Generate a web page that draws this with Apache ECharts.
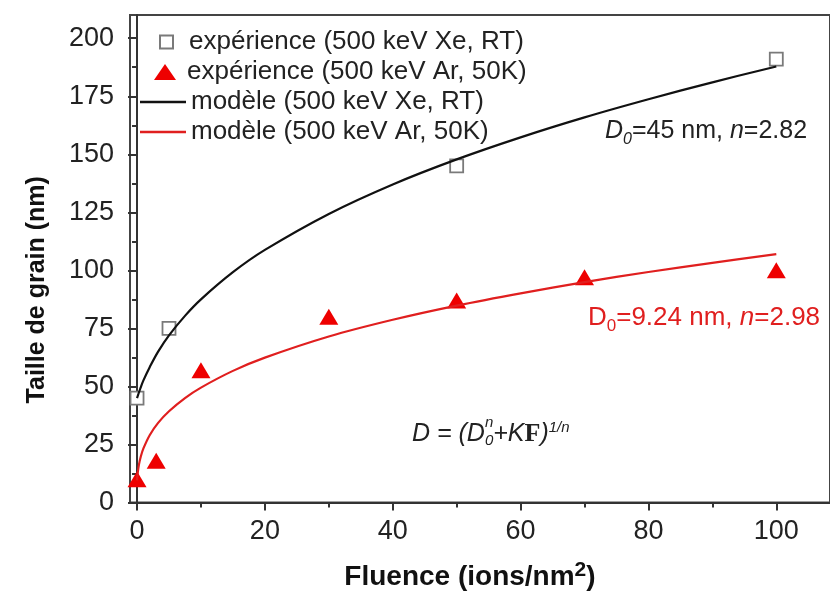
<!DOCTYPE html>
<html>
<head>
<meta charset="utf-8">
<script src="https://cdn.jsdelivr.net/npm/echarts@6/dist/echarts.min.js"></script>
<style>
html, body { margin: 0; padding: 0; background: #fff; }
#main { width: 830px; height: 596px; }
</style>
</head>
<body>
<div id="main"></div>
<script>
var xeFluence = [0, 5, 50, 100];
var xeSize = [45, 75, 145, 191];
var arFluence = [0, 3, 10, 30, 50, 70, 100];
var arSize = [10, 18, 57, 80, 87, 97, 100];

// model curves
var xeModelF = [0, 0.5, 1, 2, 3.3, 5, 7.5, 10, 15, 20, 30, 40, 50, 60, 70, 80, 90, 100];
var xeModelD = [45, 49, 52.6, 58.4, 65, 72, 80.4, 87.5, 99.2, 108.8, 124.3, 137, 147.8, 157.3, 165.9, 173.7, 181, 187.8];
var arModelF = [0, 0.1, 0.3, 0.6, 1, 2, 3.3, 5, 7.5, 10, 15, 20, 30, 40, 50, 60, 70, 80, 90, 100];
var arModelD = [9.5, 12.5, 16.3, 19.9, 23.3, 29.1, 34.3, 39.3, 45, 49.5, 56.7, 62.4, 71.5, 78.7, 84.8, 90.1, 94.9, 99.3, 103.2, 107];

var xTicks = [0, 20, 40, 60, 80, 100];
var xMinorTicks = [10, 30, 50, 70, 90];
var yTicks = [0, 25, 50, 75, 100, 125, 150, 175, 200];

var nameXeExp = 'expérience (500 keV Xe, RT)';
var nameArExp = 'expérience (500 keV Ar, 50K)';
var nameXeMod = 'modèle (500 keV Xe, RT)';
var nameArMod = 'modèle (500 keV Ar, 50K)';

function pairs(xs, ys) {
    return xs.map(function (x, i) { return [x, ys[i]]; });
}

var FONT = '"Liberation Sans", Arial, sans-serif';
var RED = '#e01f1f';
var chart = echarts.init(document.getElementById('main'));

function legendText(padLeft) {
    return { fontFamily: FONT, fontSize: 26, color: '#222', lineHeight: 26, padding: [0, 0, 0, padLeft] };
}

var option = {
    animation: false,
    backgroundColor: '#fff',
    textStyle: { fontFamily: FONT },
    grid: {
        left: 130, top: 15, right: -2, bottom: 92,
        show: true, borderColor: '#444', borderWidth: 2, backgroundColor: 'transparent'
    },
    legend: [{
        left: 154, top: 24, itemWidth: 13, itemHeight: 13,
        textStyle: legendText(11),
        data: [nameXeExp]
    }, {
        left: 149, top: 54, itemWidth: 22, itemHeight: 16,
        textStyle: legendText(6),
        data: [nameArExp]
    }, {
        orient: 'vertical', left: 135, top: 84,
        itemWidth: 46, itemHeight: 2.5, itemGap: 4, icon: 'rect',
        textStyle: legendText(0),
        data: [nameXeMod, nameArMod]
    }],
    xAxis: [{
        type: 'value', min: -1.1, max: 108.4, position: 'bottom',
        name: 'Fluence (ions/nm{sup|2})',
        nameLocation: 'middle', nameGap: 57,
        nameTextStyle: {
            fontFamily: FONT, fontSize: 28, fontWeight: 'bold', color: '#111',
            padding: [0, 20, 0, 0],
            rich: { sup: { fontFamily: FONT, fontSize: 21, fontWeight: 'bold', color: '#111', verticalAlign: 'top', padding: [0, 0, 14, 0] } }
        },
        axisLine: { lineStyle: { color: '#333', width: 2 } },
        axisTick: { customValues: xTicks, length: 8, lineStyle: { color: '#333', width: 2 } },
        axisLabel: { customValues: xTicks, fontFamily: FONT, fontSize: 27, color: '#222', margin: 16 },
        splitLine: { show: false }
    }, {
        type: 'value', min: -1.1, max: 108.4, position: 'bottom',
        axisLine: { show: false },
        axisTick: { customValues: xMinorTicks, length: 5, lineStyle: { color: '#333', width: 2 } },
        axisLabel: { show: false },
        splitLine: { show: false }
    }],
    yAxis: {
        type: 'value', min: 0, max: 210, interval: 25,
        name: 'Taille de grain (nm)',
        nameLocation: 'middle', nameGap: 80,
        nameTextStyle: { fontFamily: FONT, fontSize: 25, fontWeight: 'bold', color: '#111', padding: [0, 62, 0, 0] },
        axisLine: { show: true, lineStyle: { color: '#333', width: 2 } },
        axisTick: { customValues: yTicks, length: 9, lineStyle: { color: '#333', width: 2 } },
        minorTick: { show: true, splitNumber: 2, length: 5, lineStyle: { color: '#333', width: 2 } },
        axisLabel: { customValues: yTicks, fontFamily: FONT, fontSize: 27, color: '#222', margin: 16 },
        splitLine: { show: false }
    },
    series: [{
        name: nameXeMod,
        type: 'line', data: pairs(xeModelF, xeModelD),
        symbol: 'none', smooth: 0.35,
        color: '#111', lineStyle: { color: '#111', width: 2.2 }
    }, {
        name: nameArMod,
        type: 'line', data: pairs(arModelF, arModelD),
        symbol: 'none', smooth: 0.35,
        color: RED, lineStyle: { color: RED, width: 2.2 }
    }, {
        name: nameXeExp,
        type: 'scatter', data: pairs(xeFluence, xeSize),
        symbol: 'rect', symbolSize: 13,
        itemStyle: { color: '#fff', borderColor: '#7a7a7a', borderWidth: 1.8, opacity: 1 }
    }, {
        name: nameArExp,
        type: 'scatter', data: pairs(arFluence, arSize),
        symbol: 'triangle', symbolSize: [19, 16],
        itemStyle: { color: '#ee0000', opacity: 1 }
    }],
    graphic: [{
        type: 'text', x: 605, y: 133,
        style: {
            text: '{i|D}{sub|0}{n|=45 nm, }{i|n}{n|=2.82}',
            verticalAlign: 'middle', fill: '#222',
            rich: {
                n: { fontFamily: FONT, fontSize: 25, color: '#222', verticalAlign: 'top' },
                i: { fontFamily: FONT, fontSize: 25, fontStyle: 'italic', color: '#222', verticalAlign: 'top' },
                sub: { fontFamily: FONT, fontSize: 16, fontStyle: 'italic', color: '#222', padding: [13, 0, 0, 0] }
            }
        }
    }, {
        type: 'text', x: 588, y: 320,
        style: {
            text: '{n|D}{sub|0}{n|=9.24 nm, }{i|n}{n|=2.98}',
            verticalAlign: 'middle', fill: RED,
            rich: {
                n: { fontFamily: FONT, fontSize: 26, color: RED, verticalAlign: 'top' },
                i: { fontFamily: FONT, fontSize: 26, fontStyle: 'italic', color: RED, verticalAlign: 'top' },
                sub: { fontFamily: FONT, fontSize: 17, color: RED, padding: [13, 0, 0, 0] }
            }
        }
    }, {
        type: 'text', x: 412, y: 434,
        style: {
            text: '{i|D = (D}{sub|0}{i|+K}{f|F}{i|)}{sup|1/n}',
            verticalAlign: 'middle', fill: '#222',
            rich: {
                i: { fontFamily: FONT, fontSize: 25, fontStyle: 'italic', color: '#222' },
                f: { fontFamily: '"Liberation Serif", "Times New Roman", serif', fontSize: 26, fontWeight: 'bold', color: '#1a2040' },
                sub: { fontFamily: FONT, fontSize: 15, fontStyle: 'italic', color: '#222', padding: [13, 0, 0, 0] },
                sup: { fontFamily: FONT, fontSize: 15, fontStyle: 'italic', color: '#222', padding: [0, 0, 13, 0] }
            }
        }
    }, {
        type: 'text', x: 485, y: 423,
        style: {
            text: 'n', verticalAlign: 'middle', fill: '#222',
            font: 'italic 15px "Liberation Sans", Arial, sans-serif'
        }
    }]
};

chart.setOption(option);
</script>
</body>
</html>
